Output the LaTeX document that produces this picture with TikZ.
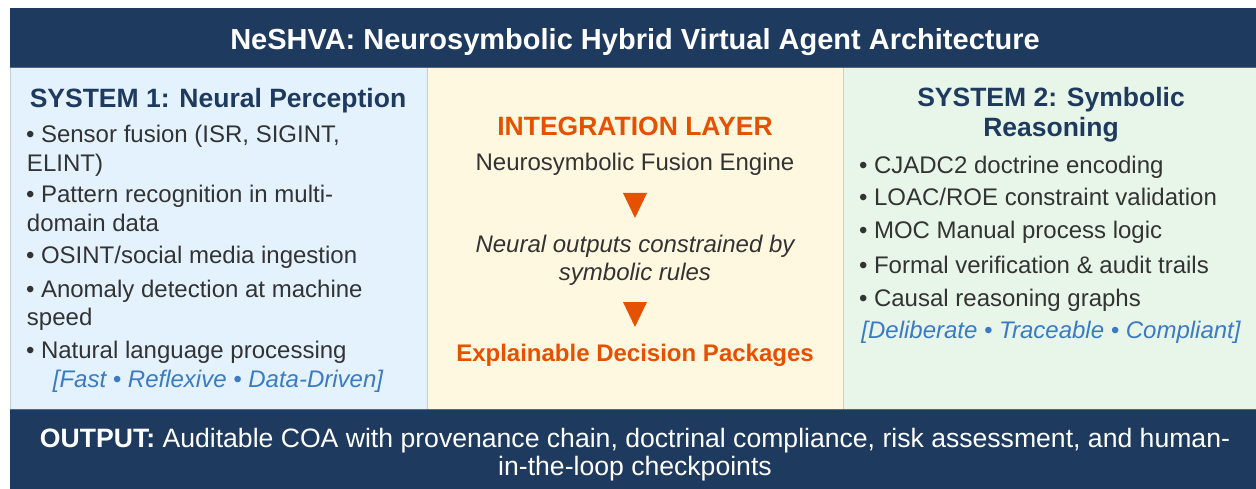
\documentclass[tikz,border=0pt]{standalone}
\usepackage{fontspec}
\setmainfont{Liberation Sans}
\definecolor{navy}{RGB}{30,58,95}
\definecolor{bluebg}{RGB}{227,242,253}
\definecolor{yellowbg}{RGB}{255,248,225}
\definecolor{greenbg}{RGB}{232,245,233}
\definecolor{orng}{RGB}{230,81,0}
\definecolor{tagblue}{RGB}{58,123,196}
\definecolor{txtgray}{RGB}{51,51,51}
\definecolor{edgeblue}{RGB}{60,110,165}
\definecolor{sepgray}{RGB}{200,205,210}
\begin{document}
\begin{tikzpicture}[x=1pt,y=-1pt,
  every node/.style={inner sep=0pt,outer sep=0pt},
  hdr/.style={font=\fontsize{29}{35}\selectfont\bfseries,text=white,anchor=base},
  systitle/.style={font=\fontsize{26.5}{30}\selectfont\bfseries,text=navy,anchor=base},
  body/.style={font=\fontsize{24}{29}\selectfont,text=txtgray,anchor=base west},
  bodyc/.style={font=\fontsize{24}{29}\selectfont,text=txtgray,anchor=base},
  ital/.style={font=\fontsize{24}{29}\selectfont\itshape,text=txtgray,anchor=base},
  tag/.style={font=\fontsize{24}{29}\selectfont\itshape,text=tagblue,anchor=base},
  orngtitle/.style={font=\fontsize{26.5}{30}\selectfont\bfseries,text=orng,anchor=base},
  orngbody/.style={font=\fontsize{24}{29}\selectfont\bfseries,text=orng,anchor=base},
  outtext/.style={font=\fontsize{26.6}{30}\selectfont,text=white,anchor=base},
  arrowtri/.style={fill=orng}
]
\useasboundingbox (0,0) rectangle (1256,489);
\fill[white] (0,0) rectangle (1256,489);
% backgrounds
\fill[navy] (10,8) rectangle (1256,68);
\fill[bluebg] (10,68) rectangle (427,409);
\fill[yellowbg] (427,68) rectangle (843,409);
\fill[greenbg] (843,68) rectangle (1256,409);
\fill[navy] (10,409) rectangle (1256,489);
\draw[sepgray,line width=1pt] (10.5,68) -- (10.5,409);
\draw[sepgray,line width=1pt] (427,68) -- (427,409);
\draw[sepgray,line width=1pt] (843,68) -- (843,409);
\draw[edgeblue,line width=1pt] (10,68) -- (1256,68);
\draw[edgeblue,line width=1pt] (10,409) -- (1256,409);

% header
\node[hdr] (head) at (635,50) {NeSHVA: Neurosymbolic Hybrid Virtual Agent Architecture};

% system 1
\node[systitle] (s1title) at (218,108) {SYSTEM 1: Neural Perception};
\node[body] (l1a) at (26,143) {• Sensor fusion (ISR, SIGINT,};
\node[body] (l1b) at (27,172) {ELINT)};
\node[body] (l2a) at (26,203) {• Pattern recognition in multi-};
\node[body] (l2b) at (27,232) {domain data};
\node[body] (l3) at (26,264) {• OSINT/social media ingestion};
\node[body] (l4a) at (26,297) {• Anomaly detection at machine};
\node[body] (l4b) at (27,325) {speed};
\node[body] (l5) at (26,358) {• Natural language processing};
\node[tag] (t1) at (218,387) {[Fast • Reflexive • Data-Driven]};

% integration layer
\node[orngtitle] (inttitle) at (635,136) {INTEGRATION LAYER};
\node[bodyc] (engine) at (635,171) {Neurosymbolic Fusion Engine};
\fill[arrowtri] (623,193) -- (647,193) -- (635,218) -- cycle;
\node[ital] (neur1) at (635,253) {Neural outputs constrained by};
\node[ital] (neur2) at (635,280) {symbolic rules};
\fill[arrowtri] (623,302) -- (647,302) -- (635,327) -- cycle;
\node[orngbody] (edp) at (635,361) {Explainable Decision Packages};

% system 2
\node[systitle] (s2title1) at (1051,107) {SYSTEM 2: Symbolic};
\node[systitle] (s2title2) at (1051,137) {Reasoning};
\node[body] (r1) at (859,174) {• CJADC2 doctrine encoding};
\node[body] (r2) at (859,206) {• LOAC/ROE constraint validation};
\node[body] (r3) at (859,239) {• MOC Manual process logic};
\node[body] (r4) at (859,273) {• Formal verification \& audit trails};
\node[body] (r5) at (859,306) {• Causal reasoning graphs};
\node[tag] (t2) at (1051,338) {[Deliberate • Traceable • Compliant]};

% output
\node[outtext] (out1) at (635,447) {\textbf{OUTPUT:} Auditable COA with provenance chain, doctrinal compliance, risk assessment, and human-};
\node[outtext] (out2) at (635,475) {in-the-loop checkpoints};
\end{tikzpicture}
\end{document}
